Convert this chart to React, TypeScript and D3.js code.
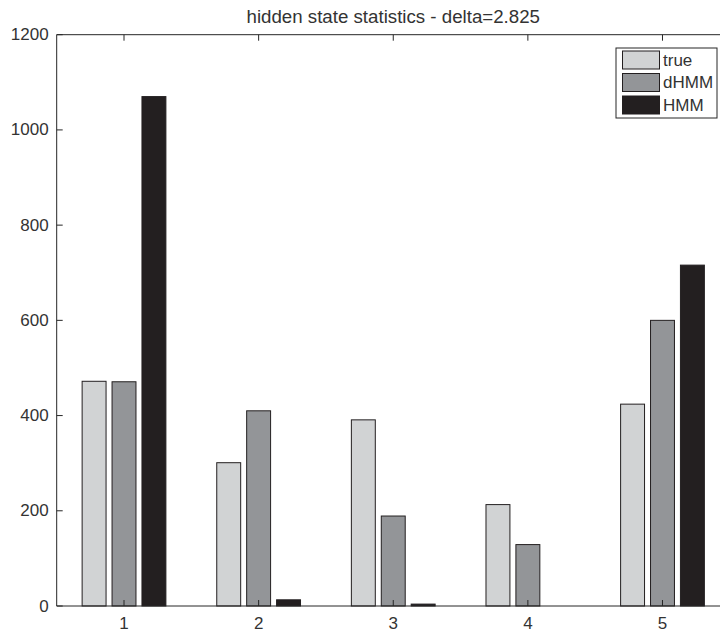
import React from "react";
import * as d3 from "d3";

// Category labels and per-series counts for each hidden state
const categories = [1, 2, 3, 4, 5];
const seriesNames = ["true", "dHMM", "HMM"];
const trueCounts = [472, 301, 391, 213, 424];
const dhmmCounts = [471, 410, 189, 129, 600];
const hmmCounts = [1070, 13, 4, 0, 716];
const yTicks = [0, 200, 400, 600, 800, 1000, 1200];
const titleText = "hidden state statistics - delta=2.825";

const W = 720;
const H = 634;
const plot = { left: 56.7, right: 729.8, top: 34.7, bottom: 606 };
const fills = ["#d1d3d4", "#939598", "#231f20"];
const edge = "#231f20";
const axisColor = "#262626";
const textColor = "#333333";
const font = "'Liberation Sans', Arial, Helvetica, sans-serif";

export default function App() {
  const x = d3.scaleLinear().domain([0.5, 5.5]).range([plot.left, plot.right]);
  const y = d3.scaleLinear().domain([0, 1200]).range([plot.bottom, plot.top]);
  const series = [trueCounts, dhmmCounts, hmmCounts];
  const nSeries = series.length;
  const groupWidth = Math.min(0.8, nSeries / (nSeries + 1.5));
  const slot = groupWidth / nSeries;
  const barW = slot * 0.8;
  const tickLen = 6;

  const bars: React.ReactNode[] = [];
  series.forEach((vals, j) => {
    vals.forEach((v, i) => {
      const cx = categories[i] + (j - (nSeries - 1) / 2) * slot;
      const x0 = x(cx - barW / 2);
      const x1 = x(cx + barW / 2);
      const yTop = y(v);
      bars.push(
        <rect
          key={`b-${j}-${i}`}
          x={x0}
          y={yTop}
          width={x1 - x0}
          height={Math.max(0, y(0) - yTop)}
          fill={fills[j]}
          stroke={edge}
          strokeWidth={1}
        />
      );
    });
  });

  const legend = { x: 616, y: 48, w: 101, h: 70 };
  const rowH = 22.5;

  return (
    <svg
      width={W}
      height={H}
      style={{ position: "absolute", left: 0, top: 0, background: "#fff" }}
      fontFamily={font}
    >
      <rect x={0} y={0} width={W} height={H} fill="#fff" />
      {bars}
      {/* axes box */}
      <g stroke={axisColor} strokeWidth={1} fill="none">
        <line x1={plot.left} x2={plot.right} y1={plot.top} y2={plot.top} />
        <line x1={plot.left} x2={plot.right} y1={plot.bottom} y2={plot.bottom} />
        <line x1={plot.left} x2={plot.left} y1={plot.top} y2={plot.bottom} />
        <line x1={plot.right} x2={plot.right} y1={plot.top} y2={plot.bottom} />
        {yTicks.map((t) => (
          <line key={`yt-${t}`} x1={plot.left} x2={plot.left + tickLen} y1={y(t)} y2={y(t)} />
        ))}
        {categories.map((c) => (
          <g key={`xt-${c}`}>
            <line x1={x(c)} x2={x(c)} y1={plot.top} y2={plot.top + tickLen} />
            <line x1={x(c)} x2={x(c)} y1={plot.bottom} y2={plot.bottom - tickLen} />
          </g>
        ))}
      </g>
      {/* tick labels */}
      <g fill={textColor} fontSize={17}>
        {yTicks.map((t) => (
          <text key={`yl-${t}`} x={plot.left - 8} y={y(t)} textAnchor="end" dominantBaseline="central">
            {t}
          </text>
        ))}
        {categories.map((c) => (
          <text key={`xl-${c}`} x={x(c)} y={plot.bottom + 23} textAnchor="middle">
            {c}
          </text>
        ))}
      </g>
      <text
        x={(plot.left + plot.right) / 2}
        y={23}
        textAnchor="middle"
        fontSize={18.7}
        fill={textColor}
      >
        {titleText}
      </text>
      {/* legend */}
      <g>
        <rect x={legend.x} y={legend.y} width={legend.w} height={legend.h} fill="#fff" stroke={axisColor} strokeWidth={1} />
        {seriesNames.map((name, j) => {
          const cy = legend.y + 12 + j * rowH;
          return (
            <g key={`lg-${name}`}>
              <rect x={legend.x + 6.5} y={cy - 9} width={37} height={18} fill={fills[j]} stroke={edge} strokeWidth={1} />
              <text x={legend.x + 47} y={cy} dominantBaseline="central" fontSize={17} fill={textColor}>
                {name}
              </text>
            </g>
          );
        })}
      </g>
    </svg>
  );
}
